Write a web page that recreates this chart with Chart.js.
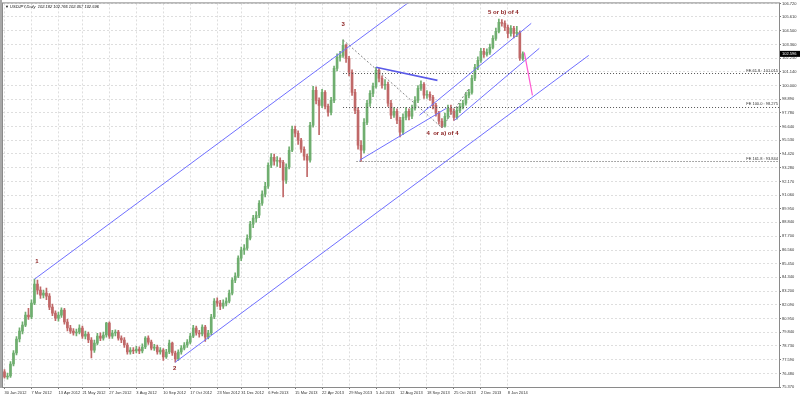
<!DOCTYPE html>
<html>
<head>
<meta charset="utf-8">
<script src="https://cdn.jsdelivr.net/npm/chart.js@4.4.1/dist/chart.umd.min.js"></script>
<style>
html, body { margin: 0; padding: 0; background: #fff; }
#wrap { width: 800px; height: 396px; }
</style>
</head>
<body>
<div id="wrap"><canvas id="usdjpy" width="800" height="396"></canvas></div>
<script>
// USDJPY daily, one candle per ~3 trading days
const opens = [76.60,76.19,76.27,77.25,78.15,79.29,79.94,80.43,81.25,81.09,
  82.23,83.78,83.29,82.88,83.04,82.80,81.90,81.41,81.00,81.25,
  81.66,80.68,80.19,79.94,79.78,79.86,80.19,79.53,79.70,79.21,
  78.39,78.96,79.53,79.37,79.62,80.60,79.53,79.78,79.86,79.37,
  79.21,78.80,78.23,78.39,78.31,78.47,78.31,78.64,79.37,79.04,
  78.55,78.64,78.23,78.39,77.82,78.23,78.96,78.15,77.66,78.23,
  78.55,78.80,79.04,79.53,80.19,79.78,79.70,80.27,79.45,79.78,
  81.09,82.39,82.23,81.98,82.23,82.39,83.04,84.11,84.43,85.90,
  86.56,86.72,87.53,88.68,89.17,89.41,90.39,91.13,91.78,93.49,
  94.15,93.82,93.90,93.74,92.27,93.33,94.72,96.43,96.11,95.54,
  94.80,94.23,93.90,96.76,99.62,98.80,98.39,99.45,98.31,97.82,
  98.80,101.41,102.31,102.47,103.29,102.23,101.09,99.45,97.98,95.13,
  94.72,97.00,98.56,99.37,99.94,101.25,100.60,100.03,100.11,98.56,
  97.58,97.90,97.17,96.19,97.41,97.90,97.50,98.15,98.80,99.78,
  100.11,99.21,99.29,99.05,98.39,97.74,97.09,96.68,97.50,98.15,
  97.90,97.41,97.98,98.31,98.56,99.21,99.45,100.60,101.50,102.07,
  102.80,102.56,102.72,103.13,103.86,104.43,105.17,105.09,104.76,104.27,
  104.68,104.27,104.35,102.18]
const highs = [76.80,76.50,77.45,78.35,79.50,80.20,80.70,81.50,81.80,82.50,
  84.18,84.10,83.55,83.30,83.45,83.00,82.15,81.60,81.50,81.85,
  81.80,80.90,80.40,80.15,80.10,80.45,80.35,79.95,79.85,79.40,
  79.20,79.75,79.80,79.85,80.65,80.70,80.00,80.05,80.00,79.55,
  79.40,78.95,78.60,78.60,78.70,78.65,78.90,79.50,79.55,79.20,
  78.85,78.80,78.60,78.50,78.45,79.20,79.05,78.30,78.40,78.75,
  79.00,79.25,79.75,80.40,80.35,80.00,80.45,80.40,80.00,81.30,
  82.60,82.65,82.45,82.50,82.65,83.30,84.30,84.70,86.10,86.80,
  87.00,87.80,88.90,89.40,89.70,90.60,91.40,92.10,93.70,94.45,
  94.40,94.20,94.10,93.90,93.60,95.00,96.70,96.70,96.30,95.70,
  95.00,94.40,97.00,99.95,99.90,99.00,99.70,99.60,98.50,99.05,
  101.60,102.60,102.80,103.74,103.40,102.40,101.30,99.70,98.20,95.50,
  97.30,98.80,99.60,100.20,101.50,101.40,100.80,100.50,100.30,98.80,
  98.20,98.10,97.40,97.70,98.20,98.10,98.40,99.10,100.00,100.40,
  100.25,99.60,99.50,99.20,98.55,97.90,97.30,97.75,98.40,98.40,
  98.10,98.25,98.55,98.80,99.45,99.70,100.85,101.75,102.35,103.05,
  103.05,103.00,103.40,104.10,104.70,105.44,105.40,105.30,104.95,104.90,
  104.85,104.85,104.45,102.77]
const lows = [76.10,76.02,76.15,77.10,78.00,79.05,79.70,80.30,80.90,80.95,
  82.10,82.95,82.60,82.65,82.50,81.70,81.20,80.80,80.75,81.05,
  80.50,79.95,79.75,79.60,79.55,79.70,79.35,79.30,79.00,77.75,
  78.20,78.80,79.15,79.20,79.45,79.35,79.35,79.55,79.20,79.00,
  78.60,78.05,78.05,78.10,78.15,78.10,78.15,78.50,78.85,78.40,
  78.35,78.05,78.05,77.55,77.70,78.10,77.95,77.40,77.55,78.05,
  78.40,78.60,78.90,79.40,79.60,79.45,79.55,79.10,79.30,79.65,
  80.95,81.95,81.70,81.80,82.00,82.25,82.90,83.90,84.30,85.70,
  86.20,86.55,87.40,88.40,88.85,89.20,90.20,90.90,91.60,93.30,
  93.50,93.40,93.30,90.90,92.00,93.20,94.60,95.80,95.20,94.55,
  93.90,92.55,93.75,96.60,98.50,96.00,98.20,98.10,97.50,97.60,
  98.60,101.20,102.00,102.30,101.90,100.80,99.20,97.70,94.80,93.80,
  94.50,96.80,98.30,99.10,99.80,100.30,99.80,99.70,98.30,97.30,
  97.40,96.90,95.80,96.00,97.20,97.20,97.30,98.00,98.60,99.60,
  98.95,98.95,98.80,98.10,97.50,96.85,96.56,96.60,97.30,97.65,
  97.15,97.25,97.80,98.10,98.40,99.00,99.30,100.40,101.30,101.90,
  102.30,102.40,102.55,103.00,103.70,104.30,104.85,104.50,103.90,104.05,
  103.90,104.00,102.05,102.06]
const closes = [76.19,76.27,77.25,78.15,79.29,79.94,80.43,81.25,81.09,82.23,
  83.78,83.29,82.88,83.04,82.80,81.90,81.41,81.00,81.25,81.66,
  80.68,80.19,79.94,79.78,79.86,80.19,79.53,79.70,79.21,78.39,
  78.96,79.53,79.37,79.62,80.60,79.53,79.78,79.86,79.37,79.21,
  78.80,78.23,78.39,78.31,78.47,78.31,78.64,79.37,79.04,78.55,
  78.64,78.23,78.39,77.82,78.23,78.96,78.15,77.66,78.23,78.55,
  78.80,79.04,79.53,80.19,79.78,79.70,80.27,79.45,79.78,81.09,
  82.39,82.23,81.98,82.23,82.39,83.04,84.11,84.43,85.90,86.56,
  86.72,87.53,88.68,89.17,89.41,90.39,91.13,91.78,93.49,94.15,
  93.82,93.90,93.74,92.27,93.33,94.72,96.43,96.11,95.54,94.80,
  94.23,93.90,96.76,99.62,98.80,98.39,99.45,98.31,97.82,98.80,
  101.41,102.31,102.47,103.29,102.23,101.09,99.45,97.98,95.13,94.72,
  97.00,98.56,99.37,99.94,101.25,100.60,100.03,100.11,98.56,97.58,
  97.90,97.17,96.19,97.41,97.90,97.50,98.15,98.80,99.78,100.11,
  99.21,99.29,99.05,98.39,97.74,97.09,96.68,97.50,98.15,97.90,
  97.41,97.98,98.31,98.56,99.21,99.45,100.60,101.50,102.07,102.80,
  102.56,102.72,103.13,103.86,104.43,105.17,105.09,104.76,104.27,104.68,
  104.27,104.35,102.25,102.60]

const dateLabels = ['30 Jan 2012','7 Mar 2012','13 Apr 2012','21 May 2012','27 Jun 2012','3 Aug 2012',
  '10 Sep 2012','17 Oct 2012','23 Nov 2012','31 Dec 2012','6 Feb 2013','15 Mar 2013','22 Apr 2013',
  '29 May 2013','5 Jul 2013','12 Aug 2013','18 Sep 2013','25 Oct 2013','2 Dec 2013','8 Jan 2014']
const dateSlots = [0,9,18,26,35,44,53,62,71,79,88,97,106,115,124,132,141,150,159,168]
const slotCount = 259

const priceTicks = [106.72,105.61,104.50,103.36,102.25,101.14,100.00,98.89,97.78,96.64,95.53,94.42,
  93.28,92.17,91.06,89.95,88.84,87.70,86.56,85.45,84.34,83.20,82.09,80.95,79.84,78.73,77.59,76.48,75.37]

// drawing objects: [slot, price]
const blueLines = [
  [[10, 84.18], [136, 107.0]],
  [[57, 77.40], [195, 102.47]],
  [[118.5, 93.9], [147.5, 98.15]],
  [[138.5, 97.58], [175.8, 105.09]],
  [[150.2, 97.17], [178.5, 103.05]]
]
const wedgeTop = [[124, 101.5], [144.5, 100.43]]
const greyDotted = [
  [[113, 103.74], [146, 96.56]],
  [[146, 96.56], [155, 99.78]]
]
const projection = [[173.5, 102.72], [176.2, 99.21]]
const fibNames = ['FE 61.8', 'FE 100.0', 'FE 161.8']
const fibLevels = [101.015, 98.275, 93.844]
const fibFrom = [113, 113, 117.5]
const waveNames = ['1', '2', '3', '4  or a) of 4', '5 or b) of 4']
const waveAt = [[10.8, 85.6], [56.8, 76.9], [113, 105.0], [146.2, 96.1], [166.5, 106.0]]
const lastPrice = 102.596
const headline = '\u25BC USDJPY,Daily  102.182 102.766 102.057 102.596'

const categories = []
for (let i = 0; i < slotCount; i++) categories.push('')
dateSlots.forEach((s, k) => { categories[s] = dateLabels[k] })

const upColor = '#6fae6f'
const downColor = '#c06868'
const candleColors = closes.map((c, i) => c >= opens[i] ? upColor : downColor)

const overlay = {
  id: 'overlay',
  beforeDraw(chart) {
    const ctx = chart.ctx
    ctx.save()
    ctx.fillStyle = '#fff'
    ctx.fillRect(0, 0, chart.width, chart.height)
    ctx.restore()
  },
  afterDatasetsDraw(chart) {
    const { ctx, chartArea: a, scales: { x, y } } = chart
    const px = p => [x.getPixelForValue(p[0]), y.getPixelForValue(p[1])]
    const seg = (p, q) => {
      const [x1, y1] = px(p), [x2, y2] = px(q)
      ctx.beginPath(); ctx.moveTo(x1, y1); ctx.lineTo(x2, y2); ctx.stroke()
    }
    ctx.save()
    ctx.beginPath()
    ctx.rect(a.left, a.top, a.right - a.left, a.bottom - a.top)
    ctx.clip()

    // fibo expansion levels
    ctx.strokeStyle = '#555'
    ctx.lineWidth = 1
    ctx.setLineDash([1, 2])
    fibLevels.forEach((lv, i) => {
      const yy = Math.round(y.getPixelForValue(lv)) + 0.5
      ctx.beginPath(); ctx.moveTo(x.getPixelForValue(fibFrom[i]), yy); ctx.lineTo(a.right, yy); ctx.stroke()
    })
    ctx.strokeStyle = '#888'
    ctx.setLineDash([2, 2])
    greyDotted.forEach(l => seg(l[0], l[1]))
    ctx.setLineDash([])

    ctx.strokeStyle = '#7070ff'
    ctx.lineWidth = 1
    blueLines.forEach(l => seg(l[0], l[1]))
    ctx.strokeStyle = '#5a5ae8'
    ctx.lineWidth = 1.6
    seg(wedgeTop[0], wedgeTop[1])
    ctx.strokeStyle = '#ff5ad2'
    ctx.lineWidth = 1.2
    seg(projection[0], projection[1])

    ctx.font = '4px "Liberation Sans"'
    ctx.fillStyle = '#333'
    ctx.textAlign = 'right'
    ctx.textBaseline = 'bottom'
    fibLevels.forEach((lv, i) => {
      ctx.fillText(fibNames[i] + ' : ' + lv.toFixed(3), a.right - 1, y.getPixelForValue(lv) - 0.5)
    })

    ctx.font = 'bold 6px "Liberation Sans"'
    ctx.fillStyle = '#8b2020'
    ctx.textAlign = 'center'
    ctx.textBaseline = 'middle'
    waveNames.forEach((n, i) => {
      const [tx, ty] = px(waveAt[i])
      ctx.fillText(n, tx, ty)
    })
    ctx.restore()

    // frame and left bar
    ctx.save()
    ctx.strokeStyle = '#8a8a8a'
    ctx.lineWidth = 1
    ctx.strokeRect(a.left - 0.5, a.top - 0.5, a.right - a.left + 1, a.bottom - a.top + 1)
    ctx.fillStyle = '#a8a8a8'
    ctx.fillRect(0, 0, 2, a.bottom + 1)

    // current price box
    const py = y.getPixelForValue(lastPrice)
    ctx.fillStyle = '#000'
    ctx.fillRect(a.right + 1, py - 3, chart.width - a.right - 1, 6)
    ctx.fillStyle = '#fff'
    ctx.font = '4px "Liberation Sans"'
    ctx.textAlign = 'left'
    ctx.textBaseline = 'middle'
    ctx.fillText(lastPrice.toFixed(3), a.right + 3, py)

    // headline
    ctx.fillStyle = '#111'
    ctx.font = 'italic 4px "Liberation Sans"'
    ctx.fillText(headline, a.left + 2, a.top + 3)
    ctx.restore()
  }
}

new Chart('usdjpy', {
  type: 'bar',
  data: {
    labels: categories,
    datasets: [{
      label: 'body',
      data: opens.map((o, i) => [o, closes[i]]),
      backgroundColor: candleColors,
      barThickness: 2,
      minBarLength: 1,
      grouped: false,
      order: 1
    }, {
      label: 'wick',
      data: lows.map((l, i) => [l, highs[i]]),
      backgroundColor: candleColors,
      barThickness: 1,
      grouped: false,
      order: 2
    }]
  },
  options: {
    responsive: false,
    animation: false,
    layout: { padding: { top: 3, left: 3, right: 0, bottom: 0 } },
    plugins: {
      legend: { display: false },
      tooltip: { enabled: false }
    },
    scales: {
      x: {
        offset: true,
        grid: { offset: false, color: '#dedede', tickColor: '#777', tickLength: 2 },
        border: { display: false, dash: [2, 2] },
        ticks: {
          autoSkip: false,
          maxRotation: 0,
          align: 'start',
          padding: 1,
          color: '#333',
          font: { size: 4, family: 'Liberation Sans' }
        },
        afterBuildTicks: s => { s.ticks = s.ticks.filter(t => categories[t.value] !== '') },
        afterFit: s => { s.height = 9 }
      },
      y: {
        position: 'right',
        min: 75.37,
        max: 106.72,
        grid: { color: '#dedede', tickColor: '#777', tickLength: 2 },
        border: { display: false, dash: [2, 2] },
        ticks: {
          padding: 1,
          color: '#333',
          font: { size: 4, family: 'Liberation Sans' },
          callback: v => Number(v).toFixed(3)
        },
        afterBuildTicks: s => { s.ticks = priceTicks.map(v => ({ value: v })) },
        afterFit: s => { s.width = 21 }
      }
    }
  },
  plugins: [overlay]
})
</script>
</body>
</html>
